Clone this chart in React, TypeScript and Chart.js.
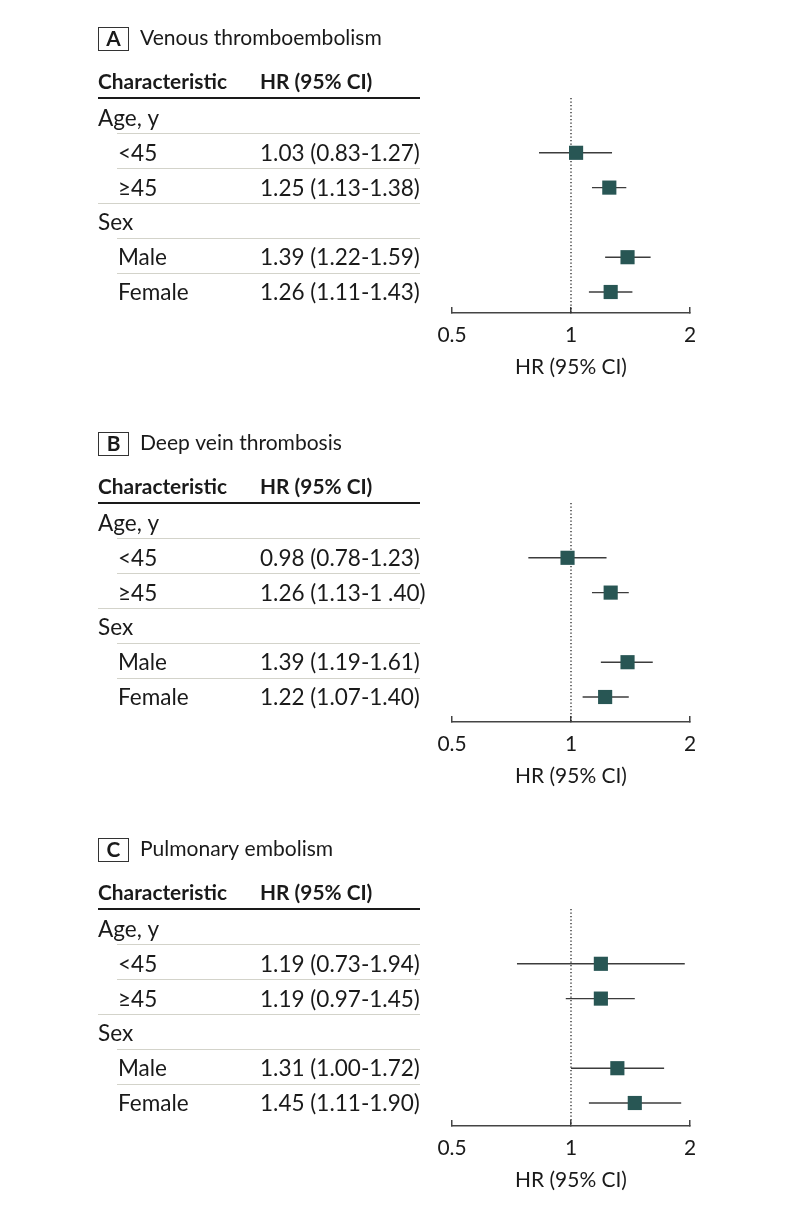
import { useEffect, useRef } from "react";
import { Chart, registerables } from "chart.js";

Chart.register(...registerables);

const FONT = "Lato, 'Noto Sans', 'DejaVu Sans', sans-serif";

// ---------- data ----------
const panelLetters = ["A", "B", "C"];
const panelTitles = ["Venous thromboembolism", "Deep vein thrombosis", "Pulmonary embolism"];
const headerLabels = ["Characteristic", "HR (95% CI)"];
const rowLabels = ["Age, y", "<45", "≥45", "Sex", "Male", "Female"];
const rowIsGroup = [true, false, false, true, false, false];
const pointRows = [1, 2, 4, 5];

const hrA = [1.03, 1.25, 1.39, 1.26];
const lowA = [0.83, 1.13, 1.22, 1.11];
const highA = [1.27, 1.38, 1.59, 1.43];
const textA = ["1.03 (0.83-1.27)", "1.25 (1.13-1.38)", "1.39 (1.22-1.59)", "1.26 (1.11-1.43)"];

const hrB = [0.98, 1.26, 1.39, 1.22];
const lowB = [0.78, 1.13, 1.19, 1.07];
const highB = [1.23, 1.4, 1.61, 1.4];
const textB = ["0.98 (0.78-1.23)", "1.26 (1.13-1 .40)", "1.39 (1.19-1.61)", "1.22 (1.07-1.40)"];

const hrC = [1.19, 1.19, 1.31, 1.45];
const lowC = [0.73, 0.97, 1.0, 1.11];
const highC = [1.94, 1.45, 1.72, 1.9];
const textC = ["1.19 (0.73-1.94)", "1.19 (0.97-1.45)", "1.31 (1.00-1.72)", "1.45 (1.11-1.90)"];

const xTicks = [0.5, 1, 2];
const xMin = 0.5;
const xMax = 2;
const refValue = 1;
const axisTitle = "HR (95% CI)";

const hrs = [hrA, hrB, hrC];
const lows = [lowA, lowB, lowC];
const highs = [highA, highB, highC];
const texts = [textA, textB, textC];

// ---------- layout / style ----------
const panelOffsets = [0, 405, 811];
const panelHeights = [405, 406, 396];
const axisYs = [313, 317, 315];
const TABLE_TOP = 98;
const ROW0 = 118;
const ROW_STEP = 34.8;
const TEXT = "#1a1a1a";
const MARKER = "#285654";
const CI_COLOR = "#3c3c3c";
const SEP = "#d3d3ca";
const CAP = 0.7165; // Lato cap-height ratio

type Style = { size: number; weight: string; cap: number };

function makeStyle(sample: string, weight: string, targetW: number): Style {
  const ctx = document.createElement("canvas").getContext("2d")!;
  ctx.font = `${weight} 100px ${FONT}`;
  const size = (100 * targetW) / ctx.measureText(sample).width;
  return { size, weight, cap: size * CAP };
}

type Styles = { reg: Style; bold: Style; title: Style; axis: Style };

function drawText(
  ctx: CanvasRenderingContext2D,
  text: string,
  x: number,
  yCenter: number,
  st: Style,
  align: CanvasTextAlign = "left"
) {
  ctx.font = `${st.weight} ${st.size}px ${FONT}`;
  ctx.textAlign = align;
  ctx.textBaseline = "alphabetic";
  ctx.fillText(text, x, yCenter + st.cap / 2);
}

function buildConfig(k: number, S: Styles): any {
  const hr = hrs[k];
  const low = lows[k];
  const high = highs[k];
  const txt = texts[k];
  const H = panelHeights[k];
  const axisY = axisYs[k];
  const yMin = (TABLE_TOP - ROW0) / ROW_STEP;
  const yMax = (axisY - ROW0) / ROW_STEP;
  const axisH = 66;

  const tablePlugin = {
    id: "tablePlugin" + k,
    afterDraw(chart: any) {
      const ctx = chart.ctx as CanvasRenderingContext2D;
      const ys = chart.scales.y;
      const xs = chart.scales.x;
      ctx.save();
      ctx.fillStyle = TEXT;
      // letter box
      ctx.strokeStyle = "#333";
      ctx.lineWidth = 1;
      ctx.strokeRect(98.5, 27.5, 30, 23);
      drawText(ctx, panelLetters[k], 113.5, 39, S.bold, "center");
      // title
      drawText(ctx, panelTitles[k], 140, 37, S.title);
      // header
      drawText(ctx, headerLabels[0], 98, 81.5, S.bold);
      drawText(ctx, headerLabels[1], 260, 81.5, S.bold);
      ctx.fillRect(98, 97, 322, 2);
      // separators
      ctx.fillStyle = SEP;
      for (let i = 0; i < rowLabels.length - 1; i++) {
        const yy = Math.round(ys.getPixelForValue(i + 0.44));
        const x0 = rowIsGroup[i + 1] ? 98 : 117;
        ctx.fillRect(x0, yy, 420 - x0, 1);
      }
      // rows
      ctx.fillStyle = TEXT;
      rowLabels.forEach((lab, i) => {
        const yc = ys.getPixelForValue(i);
        drawText(ctx, lab, rowIsGroup[i] ? 98 : 118, yc, S.reg);
        const pi = pointRows.indexOf(i);
        if (pi >= 0) drawText(ctx, txt[pi], 260, yc, S.reg);
      });
      // axis title, centred under the x scale
      drawText(ctx, axisTitle, (xs.left + xs.right) / 2, axisY + 53, S.axis, "center");
      ctx.restore();
    },
  };

  const ciSets = pointRows.map((r, j) => ({
    type: "line",
    data: [
      { x: low[j], y: r },
      { x: high[j], y: r },
    ],
    borderColor: CI_COLOR,
    borderWidth: 1.4,
    pointRadius: 0,
    showLine: true,
    fill: false,
    order: 1,
    clip: false,
  }));

  return {
    type: "scatter",
    data: {
      datasets: [
        {
          data: pointRows.map((r, j) => ({ x: hr[j], y: r })),
          pointStyle: "rect",
          pointRadius: 10,
          backgroundColor: MARKER,
          borderColor: MARKER,
          borderWidth: 0,
          order: 0,
          clip: false,
        },
        ...ciSets,
        {
          type: "line",
          data: [
            { x: refValue, y: yMin },
            { x: refValue, y: yMax },
          ],
          borderColor: "#222",
          borderWidth: 1.3,
          borderDash: [1.3, 2.2],
          pointRadius: 0,
          showLine: true,
          fill: false,
          order: 2,
          clip: false,
        },
      ],
    },
    options: {
      responsive: false,
      animation: false,
      devicePixelRatio: 1,
      events: [],
      layout: {
        padding: { left: 452, right: 104, top: TABLE_TOP, bottom: H - (axisY + axisH) },
      },
      plugins: {
        legend: { display: false },
        tooltip: { enabled: false },
        title: { display: false },
      },
      scales: {
        x: {
          type: "logarithmic",
          min: xMin,
          max: xMax,
          afterBuildTicks: (s: any) => {
            s.ticks = xTicks.map((v) => ({ value: v }));
          },
          afterFit: (s: any) => {
            s.height = axisH;
          },
          ticks: {
            callback: (v: any) => String(v),
            font: { family: FONT, size: S.axis.size, lineHeight: 1.2 },
            color: TEXT,
            padding: 16,
            autoSkip: false,
            maxRotation: 0,
          },
          grid: {
            drawOnChartArea: false,
            drawTicks: true,
            tickLength: -6,
            color: "#444",
            lineWidth: 1.5,
          },
          border: { display: true, color: "#444", width: 1.5 },
          title: { display: false },
        },
        y: {
          type: "linear",
          reverse: true,
          min: yMin,
          max: yMax,
          display: false,
        },
      },
    },
    plugins: [tablePlugin],
  };
}

function Panel({ k, styles }: { k: number; styles: Styles }) {
  const ref = useRef<HTMLCanvasElement>(null);
  useEffect(() => {
    const chart = new Chart(ref.current!, buildConfig(k, styles));
    return () => chart.destroy();
  }, [k, styles]);
  return (
    <div
      style={{
        position: "absolute",
        left: 0,
        top: panelOffsets[k],
        width: 794,
        height: panelHeights[k],
      }}
    >
      <canvas
        ref={ref}
        width={794}
        height={panelHeights[k]}
        style={{ display: "block", width: 794, height: panelHeights[k] }}
      />
    </div>
  );
}

let cached: Styles | null = null;
function getStyles(): Styles {
  if (!cached) {
    cached = {
      reg: makeStyle("0.98 (0.78-1.23)", "normal", 160),
      bold: makeStyle("Characteristic", "bold", 129),
      title: makeStyle("Venous thromboembolism", "normal", 242),
      axis: makeStyle("HR (95% CI)", "normal", 112),
    };
  }
  return cached;
}

export default function App() {
  const styles = getStyles();
  return (
    <div
      style={{
        position: "absolute",
        left: 0,
        top: 0,
        width: 794,
        height: 1207,
        overflow: "hidden",
        background: "#fff",
      }}
    >
      {[0, 1, 2].map((k) => (
        <Panel key={k} k={k} styles={styles} />
      ))}
    </div>
  );
}
